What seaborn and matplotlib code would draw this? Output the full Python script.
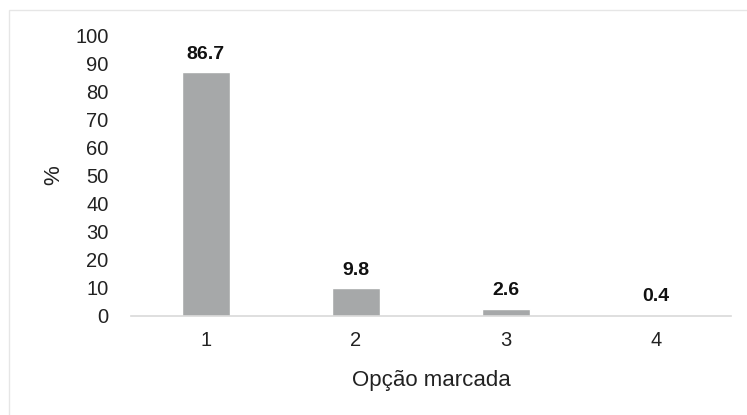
import matplotlib
matplotlib.use("Agg")
import matplotlib.pyplot as plt
import seaborn as sns
import pandas as pd
import numpy as np
from matplotlib.patches import Rectangle

options = ["1", "2", "3", "4"]
percent = [86.7, 9.8, 2.6, 0.4]
yticks = [0, 10, 20, 30, 40, 50, 60, 70, 80, 90, 100]

sns.set_style("white")
plt.rcParams["font.family"] = ["Liberation Sans", "DejaVu Sans"]

df = pd.DataFrame({"opcao": options, "pct": percent})

fig = plt.figure(figsize=(7.47, 4.15), dpi=100)
ax = fig.add_axes([0.175, 0.2386, 0.804, 0.677])
sns.barplot(data=df, x="opcao", y="pct", color="#a6a8a9", saturation=1,
            width=0.32, ax=ax)

for i, v in enumerate(percent):
    ax.text(i, v + 3.5, f"{v}", ha="center", va="bottom", fontsize=14,
            fontweight="bold", color="#111111")

ax.set_ylim(0, 100)
ax.set_xlim(-0.5, len(options) - 0.5)
ax.set_yticks(yticks)
ax.tick_params(axis="y", length=0, labelsize=14.5, pad=16, colors="#222222")
ax.tick_params(axis="x", which="major", length=0, labelsize=14.5, pad=11,
               colors="#222222")
ax.set_xticks(np.arange(-0.5, len(options)), minor=True)
ax.tick_params(axis="x", which="minor", length=5, color="#d0d0d0", width=1)

for s in ["top", "right", "left"]:
    ax.spines[s].set_visible(False)
ax.spines["bottom"].set_color("#d9d9d9")
ax.spines["bottom"].set_linewidth(1.2)

ax.set_xlabel("Opção marcada", fontsize=16, color="#222222", labelpad=14)
ax.set_ylabel("%", fontsize=16, color="#222222", labelpad=8)

fig.patches.append(Rectangle((0.012, -0.01), 1.0, 0.985, transform=fig.transFigure,
                             fill=False, edgecolor="#e6e6e6", linewidth=1))

fig.savefig("out.png", dpi=100)
